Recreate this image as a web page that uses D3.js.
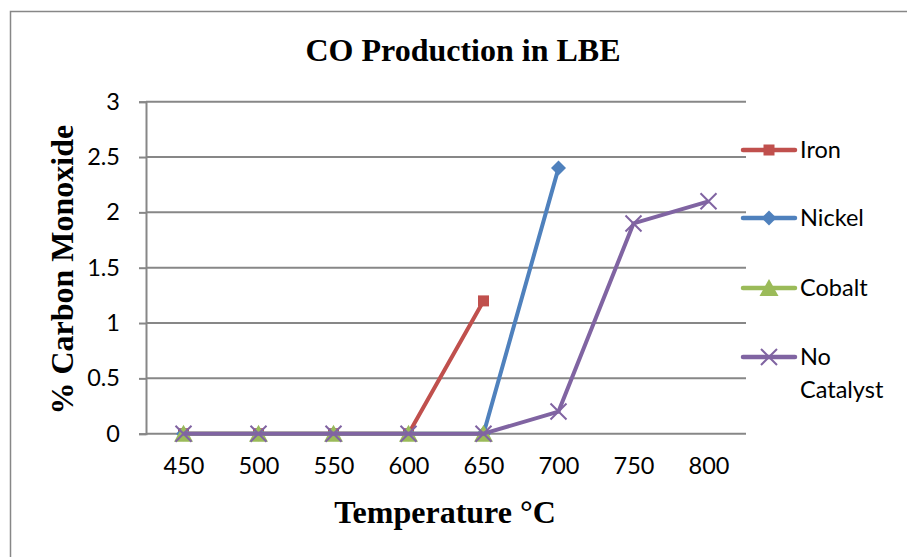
<!DOCTYPE html>
<html>
<head>
<meta charset="utf-8">
<script src="https://cdn.jsdelivr.net/npm/d3@7"></script>
<style>
  html, body { margin: 0; padding: 0; background: #fff; }
  svg { display: block; }
</style>
</head>
<body>
<svg id="chart" width="907" height="557"></svg>
<script>
// Temperature categories (°C)
const temperatures = ["450", "500", "550", "600", "650", "700", "750", "800"];

// % carbon monoxide per catalyst (null = not measured)
const ironValues      = [0, 0, 0, 0, 1.2, null, null, null];
const nickelValues    = [0, 0, 0, 0, 0, 2.4, null, null];
const cobaltValues    = [0, 0, 0, 0, 0, null, null, null];
const noCatalystValues = [0, 0, 0, 0, 0, 0.2, 1.9, 2.1];

const yTicks = [0, 0.5, 1, 1.5, 2, 2.5, 3];

const seriesNames = ["Iron", "Nickel", "Cobalt", "No Catalyst"];
const seriesColors = ["#C0504D", "#4F81BD", "#9BBB59", "#8064A2"];
const seriesValues = [ironValues, nickelValues, cobaltValues, noCatalystValues];
const seriesMarkers = ["square", "diamond", "triangle", "cross"];

const svg = d3.select("#chart");
const plot = { left: 146, right: 746, top: 101.7, bottom: 433.7 };
const gridColor = "#878787";
const labelFont = "Lato, 'Open Sans', sans-serif";
const labelSize = 23.5;
const serifFont = "'Liberation Serif', 'Times New Roman', serif";

// Chart frame
svg.append("rect")
  .attr("x", 10.5).attr("y", 11.5)
  .attr("width", 1000).attr("height", 1000)
  .attr("fill", "#fff")
  .attr("stroke", gridColor).attr("stroke-width", 1.5);

const x = d3.scalePoint()
  .domain(temperatures)
  .range([plot.left, plot.right])
  .padding(0.5);

const y = d3.scaleLinear()
  .domain([0, 3])
  .range([plot.bottom, plot.top]);

// Horizontal gridlines with left tick marks
const yAxis = d3.axisLeft(y)
  .tickValues(yTicks)
  .tickSize(7)
  .tickPadding(19)
  .tickFormat(d => String(d));

const gy = svg.append("g")
  .attr("transform", `translate(${plot.left},0)`)
  .call(yAxis);
gy.select(".domain").attr("stroke", gridColor).attr("stroke-width", 2);
gy.selectAll(".tick line").attr("stroke", gridColor).attr("stroke-width", 2);
gy.selectAll(".tick text")
  .attr("font-family", labelFont)
  .attr("font-size", labelSize)
  .attr("fill", "#000");

svg.append("g")
  .selectAll("line")
  .data(yTicks)
  .join("line")
  .attr("x1", plot.left).attr("x2", plot.right)
  .attr("y1", d => y(d)).attr("y2", d => y(d))
  .attr("stroke", gridColor).attr("stroke-width", 2);

// Category axis labels
const xAxis = d3.axisBottom(x).tickSize(0).tickPadding(24);
const gx = svg.append("g")
  .attr("transform", `translate(0,${plot.bottom})`)
  .call(xAxis);
gx.select(".domain").remove();
gx.selectAll(".tick text")
  .attr("font-family", labelFont)
  .attr("font-size", labelSize)
  .attr("fill", "#000");

// Marker shapes
function drawMarker(g, type, color) {
  if (type === "square") {
    g.append("rect").attr("x", -5.5).attr("y", -5.5).attr("width", 11).attr("height", 11)
      .attr("fill", color);
  } else if (type === "diamond") {
    g.append("path").attr("d", "M0,-7.5L7.5,0L0,7.5L-7.5,0Z").attr("fill", color);
  } else if (type === "triangle") {
    g.append("path").attr("d", "M0,-9L9.5,8L-9.5,8Z").attr("fill", color);
  } else {
    g.append("path").attr("d", "M-8,-8L8,8M-8,8L8,-8")
      .attr("stroke", color).attr("stroke-width", 2).attr("fill", "none");
  }
}

const line = d3.line()
  .defined(d => d.v !== null)
  .x(d => x(d.t))
  .y(d => y(d.v));

seriesNames.forEach((name, i) => {
  const pts = temperatures.map((t, j) => ({ t, v: seriesValues[i][j] }));
  const g = svg.append("g");
  g.append("path")
    .datum(pts)
    .attr("d", line)
    .attr("fill", "none")
    .attr("stroke", seriesColors[i])
    .attr("stroke-width", 4)
    .attr("stroke-linejoin", "round");
  pts.filter(d => d.v !== null).forEach(d => {
    const m = g.append("g").attr("transform", `translate(${x(d.t)},${y(d.v)})`);
    drawMarker(m, seriesMarkers[i], seriesColors[i]);
  });
});

// Legend
const legendY = [150, 218, 288, 357];
seriesNames.forEach((name, i) => {
  const g = svg.append("g").attr("transform", `translate(0,${legendY[i]})`);
  g.append("line").attr("x1", 743).attr("x2", 795).attr("y1", 0).attr("y2", 0)
    .attr("stroke", seriesColors[i]).attr("stroke-width", 4.5).attr("stroke-linecap", "round");
  const m = g.append("g").attr("transform", "translate(769,0)");
  drawMarker(m, seriesMarkers[i], seriesColors[i]);
  const words = name === "No Catalyst" ? ["No", "Catalyst"] : [name];
  const txt = g.append("text")
    .attr("x", 800).attr("y", 8)
    .attr("font-family", labelFont).attr("font-size", labelSize).attr("fill", "#000");
  words.forEach((w, k) => {
    txt.append("tspan").attr("x", 800).attr("dy", k === 0 ? 0 : 33).text(w);
  });
});

// Titles
svg.append("text")
  .attr("x", 463).attr("y", 61)
  .attr("text-anchor", "middle")
  .attr("font-family", serifFont).attr("font-weight", "bold").attr("font-size", 32)
  .attr("fill", "#000")
  .text("CO Production in LBE");

svg.append("text")
  .attr("x", 445).attr("y", 523)
  .attr("text-anchor", "middle")
  .attr("font-family", serifFont).attr("font-weight", "bold").attr("font-size", 32)
  .attr("fill", "#000")
  .text("Temperature °C");

svg.append("text")
  .attr("transform", `translate(73,${(plot.top + plot.bottom) / 2 + 2}) rotate(-90)`)
  .attr("text-anchor", "middle")
  .attr("font-family", serifFont).attr("font-weight", "bold").attr("font-size", 32)
  .attr("fill", "#000")
  .text("% Carbon Monoxide");
</script>
</body>
</html>
